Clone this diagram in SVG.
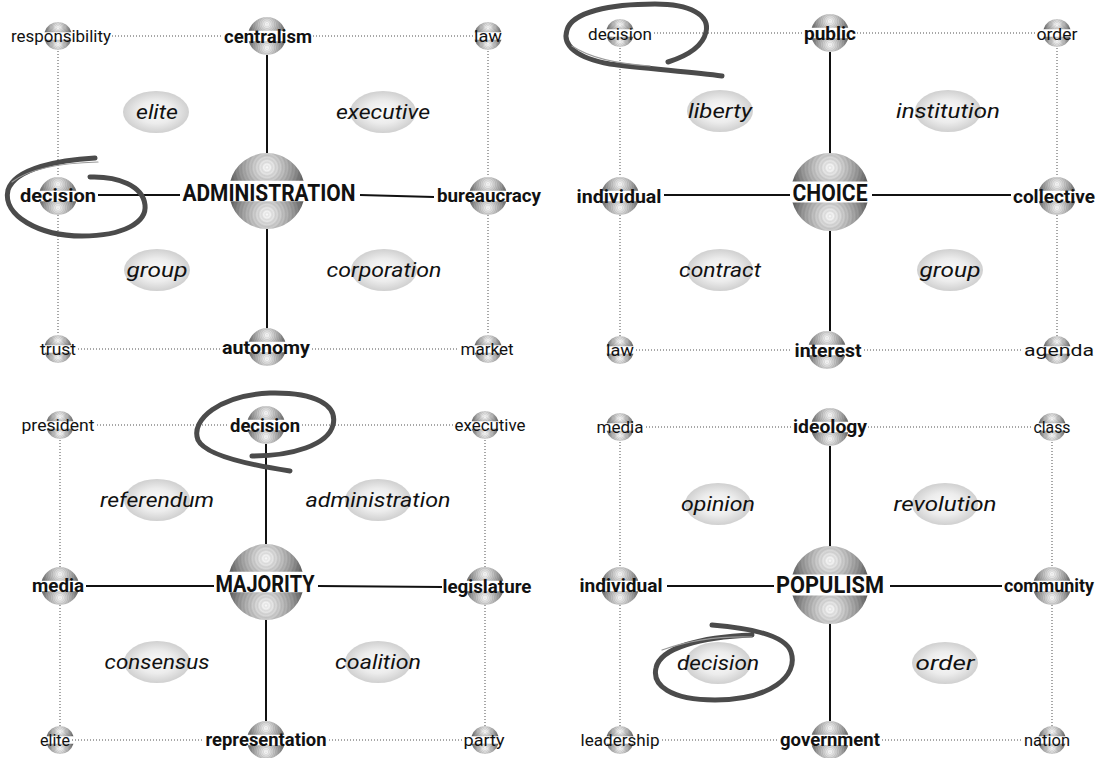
<svg xmlns="http://www.w3.org/2000/svg" xmlns:xlink="http://www.w3.org/1999/xlink" width="1108" height="758" viewBox="0 0 1108 758">
<defs>
<style>
text{font-family:Roboto,"Liberation Sans",sans-serif;fill:#111;text-anchor:middle}
.r{font-size:17px}
.b{font-size:18px;font-weight:bold}
.c{font-size:24px;font-weight:bold}
.i{font-size:21px;font-style:italic}
.sol{stroke:#111;stroke-width:2;fill:none}
.dot{stroke:#8a8a8a;stroke-width:1.5;stroke-dasharray:1 2;fill:none}
.scr{stroke:#4b4b4b;stroke-width:5;fill:none;stroke-linecap:round;stroke-linejoin:round}
.scr2{stroke:#9a9a9a;stroke-width:1.2;fill:none;stroke-linecap:round}
.el{fill:url(#gEl)}
</style>
<radialGradient id="gTop" gradientUnits="userSpaceOnUse" cx="0" cy="-0.62" r="1.05">
<stop offset="0" stop-color="#ffffff"/><stop offset="0.3" stop-color="#d2d2d2"/><stop offset="0.7" stop-color="#959595"/><stop offset="1" stop-color="#575757"/>
</radialGradient>
<radialGradient id="gBot" gradientUnits="userSpaceOnUse" cx="0" cy="0.62" r="1.05">
<stop offset="0" stop-color="#ffffff"/><stop offset="0.3" stop-color="#d2d2d2"/><stop offset="0.7" stop-color="#959595"/><stop offset="1" stop-color="#575757"/>
</radialGradient>
<radialGradient id="rTop" gradientUnits="userSpaceOnUse" cx="0" cy="-0.62" r="0.09" spreadMethod="repeat">
<stop offset="0" stop-color="#000" stop-opacity="0"/><stop offset="0.5" stop-color="#000" stop-opacity="0.08"/><stop offset="1" stop-color="#000" stop-opacity="0"/>
</radialGradient>
<radialGradient id="rBot" gradientUnits="userSpaceOnUse" cx="0" cy="0.62" r="0.09" spreadMethod="repeat">
<stop offset="0" stop-color="#000" stop-opacity="0"/><stop offset="0.5" stop-color="#000" stop-opacity="0.08"/><stop offset="1" stop-color="#000" stop-opacity="0"/>
</radialGradient>
<radialGradient id="gEl" cx="0.5" cy="0.5" r="0.5">
<stop offset="0" stop-color="#fbfbfb"/><stop offset="0.55" stop-color="#ececec"/><stop offset="1" stop-color="#d0d0d0"/>
</radialGradient>
<symbol id="sph" viewBox="-1 -1 2 2" overflow="visible">
<path d="M-0.962,-0.27 A1,1 0 0 1 0.962,-0.27 Z" fill="url(#gTop)"/>
<path d="M-0.962,0.27 A1,1 0 0 0 0.962,0.27 Z" fill="url(#gBot)"/>
<path d="M-0.962,-0.27 A1,1 0 0 1 0.962,-0.27 Z" fill="url(#rTop)"/>
<path d="M-0.962,0.27 A1,1 0 0 0 0.962,0.27 Z" fill="url(#rBot)"/>
</symbol>
</defs>
<rect width="1108" height="758" fill="#fff"/>

<g id="connectors">
<path class="dot" d="M112,36H222M313,36H473M58,51V177M58,215V335M488,51V177M488,215V335M78,349H221M312,349H459"/>
<path class="sol" d="M267,55V153M267,229V329M98,195H180M360,195L434,197"/>
<path class="dot" d="M654,33H803M857,33H1035M620,48V177M620,215V336M1057,48V177M1057,215V336M636,350H792M864,350H1022"/>
<path class="sol" d="M830,52V154M830,231V331M664,195H790M872,195H1011"/>
<path class="dot" d="M97,425H228M302,425H454M60,440V567M60,605V726M485,440V567M485,605V726M72,740H204M329,740H462"/>
<path class="sol" d="M266,444V544M266,620V721M86,586H214M318,586L442,587"/>
<path class="dot" d="M646,427H791M868,427H1031M620,442V567M620,605V726M1052,442V567M1052,605V726M662,740H778M882,740H1022"/>
<path class="sol" d="M830,446V547M830,623V721M667,586H774M890,586H1002"/>
</g>

<!-- Panel 1 -->
<g id="p1-responsibility"><use xlink:href="#sph" x="44" y="22" width="28" height="28"/><text class="r" x="61" y="42" textLength="100" lengthAdjust="spacingAndGlyphs">responsibility</text></g>
<g id="p1-centralism"><use xlink:href="#sph" x="248" y="17" width="38" height="38"/><text class="b" x="268" y="43" textLength="88" lengthAdjust="spacingAndGlyphs">centralism</text></g>
<g id="p1-law"><use xlink:href="#sph" x="474" y="22" width="28" height="28"/><text class="r" x="488" y="42" textLength="28" lengthAdjust="spacingAndGlyphs">law</text></g>
<g id="p1-decision"><use xlink:href="#sph" x="39" y="177" width="38" height="38"/><text class="b" x="58" y="202" textLength="76" lengthAdjust="spacingAndGlyphs">decision</text></g>
<g id="p1-administration"><use xlink:href="#sph" x="229" y="153" width="76" height="76"/><text class="c" x="269" y="201" textLength="173" lengthAdjust="spacingAndGlyphs">ADMINISTRATION</text></g>
<g id="p1-bureaucracy"><use xlink:href="#sph" x="469" y="177" width="38" height="38"/><text class="b" x="489" y="202" textLength="104" lengthAdjust="spacingAndGlyphs">bureaucracy</text></g>
<g id="p1-trust"><use xlink:href="#sph" x="44" y="335" width="28" height="28"/><text class="r" x="58" y="355" textLength="36" lengthAdjust="spacingAndGlyphs">trust</text></g>
<g id="p1-autonomy"><use xlink:href="#sph" x="248" y="328" width="38" height="38"/><text class="b" x="266" y="354" textLength="88" lengthAdjust="spacingAndGlyphs">autonomy</text></g>
<g id="p1-market"><use xlink:href="#sph" x="474" y="335" width="28" height="28"/><text class="r" x="487" y="355" textLength="53" lengthAdjust="spacingAndGlyphs">market</text></g>
<g id="p1-elite"><ellipse class="el" cx="156" cy="112" rx="33" ry="21"/><text class="i" x="157" y="119" textLength="42" lengthAdjust="spacingAndGlyphs">elite</text></g>
<g id="p1-executive"><ellipse class="el" cx="383" cy="112" rx="33" ry="21"/><text class="i" x="383" y="119" textLength="94" lengthAdjust="spacingAndGlyphs">executive</text></g>
<g id="p1-group"><ellipse class="el" cx="157" cy="270" rx="33" ry="21"/><text class="i" x="157" y="277" textLength="61" lengthAdjust="spacingAndGlyphs">group</text></g>
<g id="p1-corporation"><ellipse class="el" cx="384" cy="270" rx="33" ry="21"/><text class="i" x="384" y="277" textLength="115" lengthAdjust="spacingAndGlyphs">corporation</text></g>

<!-- Panel 2 -->
<g id="p2-decision"><use xlink:href="#sph" x="606" y="19" width="28" height="28"/><text class="r" x="620" y="40" textLength="64" lengthAdjust="spacingAndGlyphs">decision</text></g>
<g id="p2-public"><use xlink:href="#sph" x="811" y="14" width="38" height="38"/><text class="b" x="830" y="40" textLength="52" lengthAdjust="spacingAndGlyphs">public</text></g>
<g id="p2-order"><use xlink:href="#sph" x="1043" y="19" width="28" height="28"/><text class="r" x="1057" y="40" textLength="41" lengthAdjust="spacingAndGlyphs">order</text></g>
<g id="p2-individual"><use xlink:href="#sph" x="601" y="177" width="38" height="38"/><text class="b" x="619" y="203" textLength="85" lengthAdjust="spacingAndGlyphs">individual</text></g>
<g id="p2-choice"><use xlink:href="#sph" x="791" y="153" width="78" height="78"/><text class="c" x="830" y="201" textLength="75" lengthAdjust="spacingAndGlyphs">CHOICE</text></g>
<g id="p2-collective"><use xlink:href="#sph" x="1038" y="177" width="38" height="38"/><text class="b" x="1054" y="203" textLength="82" lengthAdjust="spacingAndGlyphs">collective</text></g>
<g id="p2-law"><use xlink:href="#sph" x="606" y="336" width="28" height="28"/><text class="r" x="620" y="356" textLength="28" lengthAdjust="spacingAndGlyphs">law</text></g>
<g id="p2-interest"><use xlink:href="#sph" x="808" y="331" width="38" height="38"/><text class="b" x="828" y="357" textLength="67" lengthAdjust="spacingAndGlyphs">interest</text></g>
<g id="p2-agenda"><use xlink:href="#sph" x="1043" y="336" width="28" height="28"/><text class="r" x="1059" y="356" textLength="70" lengthAdjust="spacingAndGlyphs">agenda</text></g>
<g id="p2-liberty"><ellipse class="el" cx="720" cy="111" rx="33" ry="21"/><text class="i" x="720" y="118" textLength="64" lengthAdjust="spacingAndGlyphs">liberty</text></g>
<g id="p2-institution"><ellipse class="el" cx="948" cy="111" rx="33" ry="21"/><text class="i" x="948" y="118" textLength="104" lengthAdjust="spacingAndGlyphs">institution</text></g>
<g id="p2-contract"><ellipse class="el" cx="720" cy="270" rx="33" ry="21"/><text class="i" x="720" y="277" textLength="82" lengthAdjust="spacingAndGlyphs">contract</text></g>
<g id="p2-group"><ellipse class="el" cx="950" cy="270" rx="33" ry="21"/><text class="i" x="950" y="277" textLength="61" lengthAdjust="spacingAndGlyphs">group</text></g>

<!-- Panel 3 -->
<g id="p3-president"><use xlink:href="#sph" x="46" y="411" width="28" height="28"/><text class="r" x="58" y="431" textLength="73" lengthAdjust="spacingAndGlyphs">president</text></g>
<g id="p3-decision"><use xlink:href="#sph" x="247" y="406" width="38" height="38"/><text class="b" x="265" y="432" textLength="70" lengthAdjust="spacingAndGlyphs">decision</text></g>
<g id="p3-executive"><use xlink:href="#sph" x="471" y="411" width="28" height="28"/><text class="r" x="490" y="431" textLength="71" lengthAdjust="spacingAndGlyphs">executive</text></g>
<g id="p3-media"><use xlink:href="#sph" x="41" y="567" width="38" height="38"/><text class="b" x="58" y="592" textLength="52" lengthAdjust="spacingAndGlyphs">media</text></g>
<g id="p3-majority"><use xlink:href="#sph" x="228" y="544" width="76" height="76"/><text class="c" x="265" y="592" textLength="99" lengthAdjust="spacingAndGlyphs">MAJORITY</text></g>
<g id="p3-legislature"><use xlink:href="#sph" x="466" y="567" width="38" height="38"/><text class="b" x="487" y="593" textLength="89" lengthAdjust="spacingAndGlyphs">legislature</text></g>
<g id="p3-elite"><use xlink:href="#sph" x="46" y="726" width="28" height="28"/><text class="r" x="55" y="746" textLength="30" lengthAdjust="spacingAndGlyphs">elite</text></g>
<g id="p3-representation"><use xlink:href="#sph" x="247" y="721" width="38" height="38"/><text class="b" x="266" y="746" textLength="121" lengthAdjust="spacingAndGlyphs">representation</text></g>
<g id="p3-party"><use xlink:href="#sph" x="471" y="726" width="28" height="28"/><text class="r" x="484" y="746" textLength="41" lengthAdjust="spacingAndGlyphs">party</text></g>
<g id="p3-referendum"><ellipse class="el" cx="157" cy="500" rx="33" ry="21"/><text class="i" x="157" y="507" textLength="114" lengthAdjust="spacingAndGlyphs">referendum</text></g>
<g id="p3-administration"><ellipse class="el" cx="378" cy="500" rx="33" ry="21"/><text class="i" x="378" y="507" textLength="145" lengthAdjust="spacingAndGlyphs">administration</text></g>
<g id="p3-consensus"><ellipse class="el" cx="157" cy="662" rx="33" ry="21"/><text class="i" x="157" y="669" textLength="105" lengthAdjust="spacingAndGlyphs">consensus</text></g>
<g id="p3-coalition"><ellipse class="el" cx="378" cy="662" rx="33" ry="21"/><text class="i" x="378" y="669" textLength="86" lengthAdjust="spacingAndGlyphs">coalition</text></g>

<!-- Panel 4 -->
<g id="p4-media"><use xlink:href="#sph" x="606" y="413" width="28" height="28"/><text class="r" x="620" y="433" textLength="47" lengthAdjust="spacingAndGlyphs">media</text></g>
<g id="p4-ideology"><use xlink:href="#sph" x="811" y="408" width="38" height="38"/><text class="b" x="830" y="433" textLength="74" lengthAdjust="spacingAndGlyphs">ideology</text></g>
<g id="p4-class"><use xlink:href="#sph" x="1038" y="413" width="28" height="28"/><text class="r" x="1052" y="433" textLength="37" lengthAdjust="spacingAndGlyphs">class</text></g>
<g id="p4-individual"><use xlink:href="#sph" x="601" y="567" width="38" height="38"/><text class="b" x="621" y="592" textLength="83" lengthAdjust="spacingAndGlyphs">individual</text></g>
<g id="p4-populism"><use xlink:href="#sph" x="791" y="546" width="78" height="78"/><text class="c" x="830" y="593" textLength="108" lengthAdjust="spacingAndGlyphs">POPULISM</text></g>
<g id="p4-community"><use xlink:href="#sph" x="1033" y="567" width="38" height="38"/><text class="b" x="1049" y="592" textLength="90" lengthAdjust="spacingAndGlyphs">community</text></g>
<g id="p4-leadership"><use xlink:href="#sph" x="606" y="726" width="28" height="28"/><text class="r" x="620" y="746" textLength="79" lengthAdjust="spacingAndGlyphs">leadership</text></g>
<g id="p4-government"><use xlink:href="#sph" x="811" y="721" width="38" height="38"/><text class="b" x="830" y="746" textLength="100" lengthAdjust="spacingAndGlyphs">government</text></g>
<g id="p4-nation"><use xlink:href="#sph" x="1038" y="726" width="28" height="28"/><text class="r" x="1047" y="746" textLength="46" lengthAdjust="spacingAndGlyphs">nation</text></g>
<g id="p4-opinion"><ellipse class="el" cx="718" cy="504" rx="33" ry="21"/><text class="i" x="718" y="511" textLength="74" lengthAdjust="spacingAndGlyphs">opinion</text></g>
<g id="p4-revolution"><ellipse class="el" cx="945" cy="504" rx="33" ry="21"/><text class="i" x="945" y="511" textLength="103" lengthAdjust="spacingAndGlyphs">revolution</text></g>
<g id="p4-decision"><ellipse class="el" cx="718" cy="663" rx="33" ry="21"/><text class="i" x="718" y="670" textLength="82" lengthAdjust="spacingAndGlyphs">decision</text></g>
<g id="p4-order"><ellipse class="el" cx="945" cy="663" rx="33" ry="21"/><text class="i" x="945" y="670" textLength="59" lengthAdjust="spacingAndGlyphs">order</text></g>

<g id="highlights">
<path class="scr" d="M95,158C60,160 15,168 8,190C2,216 40,236 82,236C124,236 147,222 145,205C143,186 118,176 90,177"/>
<path class="scr2" d="M12,182C30,168 60,163 98,162"/>
<path class="scr" d="M722,76C690,72 640,68 610,64C576,58 562,45 567,30C572,12 610,4 655,4C690,4 710,15 706,32C703,45 690,55 668,62"/>
<path class="scr2" d="M572,46C590,58 620,64 650,66"/>
<path class="scr" d="M290,471C250,465 205,455 198,440C190,420 220,395 270,393C315,392 338,405 333,425C328,445 292,456 252,456"/>
<path class="scr" d="M712,625C750,628 785,635 791,652C799,676 770,700 715,700C670,700 652,685 656,668C660,648 700,637 752,635"/>
<path class="scr2" d="M662,650C690,640 720,636 752,637"/>
</g>
</svg>
